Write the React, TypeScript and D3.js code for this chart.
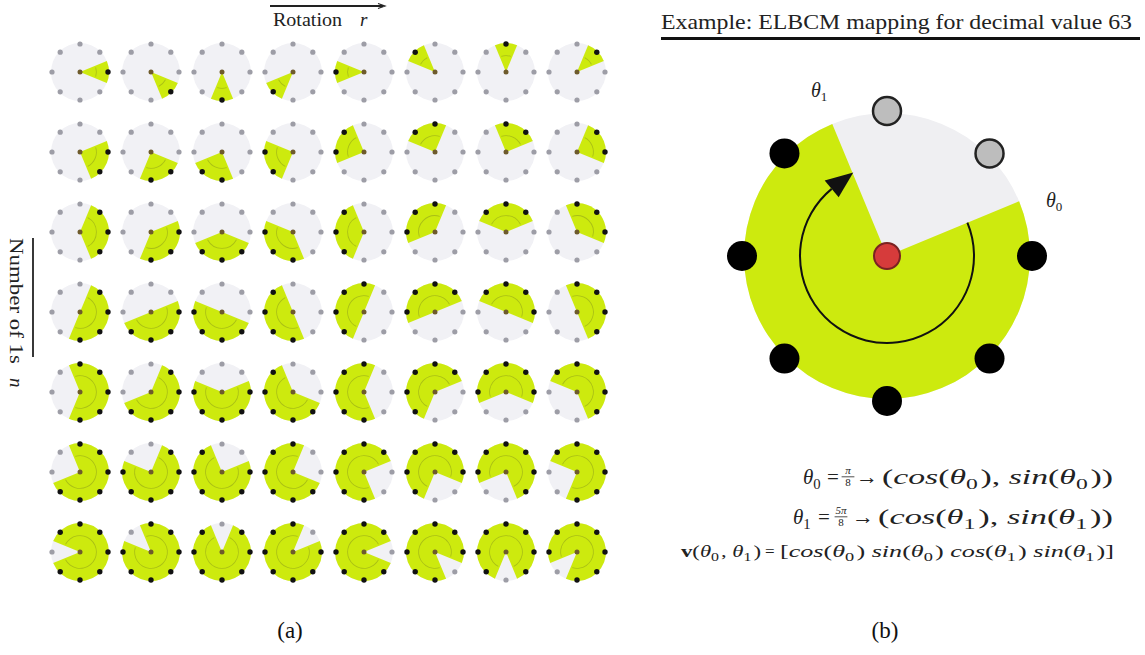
import React from 'react';
import * as d3 from 'd3';

// ---- data ----
const rotations = [0, 1, 2, 3, 4, 5, 6, 7];          // column: rotation r
const numberOfOnes = [1, 2, 3, 4, 5, 6, 7];         // row: number of 1s n
const dotAngles = [0, 45, 90, 135, 180, 225, 270, 315]; // math degrees of ring dots
const exampleValue = 63;
const exampleOnes = 6;
const exampleRotation = 2;
const titleText = `Example: ELBCM mapping for decimal value ${exampleValue}`;
const panelLabels = ['(a)', '(b)'];

const GREEN = '#cdea0e';
const RAD = Math.PI / 180;
const mod = (a: number, m: number) => ((a % m) + m) % m;

function cellGeometry(n: number, r: number) {
  const topDeg = -45 * r + 45 * Math.floor((n - 1) / 2);
  const active = new Set<number>();
  for (let j = 0; j < n; j++) active.add(mod(topDeg - 45 * j, 360));
  const start = (90 - (topDeg + 22.5)) * RAD; // d3 arc angle (clockwise from 12 o'clock)
  const end = start + n * 45 * RAD;
  return { active, start, end };
}

function Cell({ cx, cy, n, r }: { cx: number; cy: number; n: number; r: number }) {
  const R = 28;
  const g = cellGeometry(n, r);
  const wedge = d3.arc()({ innerRadius: 0, outerRadius: 29, startAngle: g.start, endAngle: g.end } as any) || '';
  const inner = d3.arc()({ innerRadius: 16, outerRadius: 16.8, startAngle: g.start + 0.1, endAngle: g.end - 0.1 } as any) || '';
  return (
    <g transform={`translate(${cx},${cy})`}>
      <circle r={29} fill="#f1f1f5" />
      <path d={wedge} fill={GREEN} />
      <path d={inner} fill="#7c8a1e" opacity={0.45} />
      {dotAngles.map((a) => (
        <circle
          key={a}
          cx={R * Math.cos(a * RAD)}
          cy={-R * Math.sin(a * RAD)}
          r={g.active.has(a) ? 2.7 : 2.6}
          fill={g.active.has(a) ? '#111' : '#9d9da6'}
        />
      ))}
      <circle r={2.5} fill="#6e5b2c" />
    </g>
  );
}

function Frac({ x, y, num, den, size }: { x: number; y: number; num: string; den: string; size: number }) {
  return (
    <g>
      <text x={x} y={y - size * 0.5} fontSize={size * 0.55} textAnchor="middle" fontStyle="italic">{num}</text>
      <line x1={x - size * 0.32} x2={x + size * 0.32} y1={y - size * 0.36} y2={y - size * 0.36} stroke="#222" strokeWidth={0.8} />
      <text x={x} y={y + size * 0.1} fontSize={size * 0.55} textAnchor="middle">{den}</text>
    </g>
  );
}

const Th = ({ i, s }: { i: string; s: number }) => (
  <>
    <tspan fontStyle="italic">θ</tspan>
    <tspan fontSize={s * 0.7} dy={s * 0.25}>{i}</tspan>
    <tspan dy={-s * 0.25}>{'\u200A'}</tspan>
  </>
);

export default function App() {
  const x = d3.scalePoint<number>().domain(rotations).range([80, 577]);
  const y = d3.scalePoint<number>().domain(numberOfOnes).range([72, 552]);

  // panel b
  const bx = 887, by = 256, bR = 145, wR = 143;
  const eg = cellGeometry(exampleOnes, exampleRotation);
  const greenB = d3.arc()({ innerRadius: 0, outerRadius: wR, startAngle: eg.start, endAngle: eg.end } as any) || '';
  const greyB = d3.arc()({ innerRadius: 0, outerRadius: wR, startAngle: 0, endAngle: 2 * Math.PI } as any) || '';
  const arcR = 87;
  const a0 = eg.start;               // theta0 (d3 angle)
  const aEnd = eg.end - 17 * RAD;    // arc stops before arrow base
  const arcLine = d3.arc()({ innerRadius: arcR - 1, outerRadius: arcR + 1, startAngle: a0, endAngle: aEnd } as any) || '';
  const tipA = eg.end + 0.5 * RAD;
  const tip = [bx + (arcR + 3) * Math.sin(tipA), by - (arcR + 3) * Math.cos(tipA)];
  const baseC = [bx + arcR * Math.sin(aEnd), by - arcR * Math.cos(aEnd)];
  const nrm = [Math.sin(aEnd), -Math.cos(aEnd)];
  const hw = 11;
  const arrow = `M${tip[0]},${tip[1]} L${baseC[0] + nrm[0] * hw},${baseC[1] + nrm[1] * hw} L${baseC[0] - nrm[0] * hw},${baseC[1] - nrm[1] * hw} Z`;

  const serif = "'Liberation Serif', 'DejaVu Serif', serif";
  const LA = 'spacingAndGlyphs';

  return (
    <svg width={1145} height={655} style={{ position: 'absolute', left: 0, top: 0, background: '#fff', fontFamily: serif }}>
      <rect width={1145} height={655} fill="#fff" />
      {/* panel a header */}
      <line x1={270} x2={383} y1={6} y2={6} stroke="#222" strokeWidth={2} />
      <path d="M378,3.5 L385,6 L378,8.5" fill="none" stroke="#222" strokeWidth={1.2} />
      <text x={273} y={26} fontSize={19} textLength={69} lengthAdjust={LA} fill="#222">Rotation</text>
      <text x={360} y={26} fontSize={19} fontStyle="italic" fill="#222">r</text>
      {/* vertical label */}
      <g transform="translate(10,238) rotate(90)">
        <text x={0} y={0} fontSize={19} textLength={126} lengthAdjust={LA} fill="#222">Number of 1s</text>
        <text x={140} y={0} fontSize={19} fontStyle="italic" fill="#222">n</text>
      </g>
      <line x1={33} x2={33} y1={238} y2={357} stroke="#222" strokeWidth={1.8} />

      {numberOfOnes.map((n) =>
        rotations.map((r) => <Cell key={`${n}-${r}`} cx={x(r)!} cy={y(n)!} n={n} r={r} />)
      )}

      {/* panel b */}
      <text x={661} y={29} fontSize={21} textLength={471} lengthAdjust={LA} fill="#222">{titleText}</text>
      <line x1={661} x2={1140} y1={38.5} y2={38.5} stroke="#111" strokeWidth={3} />

      <path d={greyB} transform={`translate(${bx},${by})`} fill="#efeff2" />
      <path d={greenB} transform={`translate(${bx},${by})`} fill={GREEN} />
      <path d={arcLine} transform={`translate(${bx},${by})`} fill="#111" />
      <path d={arrow} fill="#111" />
      {dotAngles.map((a) => (
        <circle
          key={a}
          cx={bx + bR * Math.cos(a * RAD)}
          cy={by - bR * Math.sin(a * RAD)}
          r={eg.active.has(a) ? 15 : 14}
          fill={eg.active.has(a) ? '#000' : '#bdbdbd'}
          stroke={eg.active.has(a) ? 'none' : '#222'}
          strokeWidth={2.5}
        />
      ))}
      <circle cx={bx} cy={by} r={13} fill="#d63b3b" stroke="#7a2222" strokeWidth={2} />
      <text x={811} y={97} fontSize={20} fontStyle="italic" fill="#222">θ<tspan fontSize={13} dy={4} fontStyle="normal">1</tspan></text>
      <text x={1046} y={207} fontSize={20} fontStyle="italic" fill="#222">θ<tspan fontSize={13} dy={4} fontStyle="normal">0</tspan></text>

      {/* equations */}
      <g fill="#222">
        <text x={803} y={484} fontSize={21}><Th i="0" s={21} /></text>
        <text x={827} y={484} fontSize={21}>=</text>
        <Frac x={848} y={484} num="π" den="8" size={20} />
        <text x={856} y={484} fontSize={21} textLength={22} lengthAdjust={LA}>→</text>
        <text x={882} y={484} fontSize={21} textLength={231} lengthAdjust={LA}>(<tspan fontStyle="italic">cos</tspan>(<Th i="0" s={21} />), <tspan fontStyle="italic">sin</tspan>(<Th i="0" s={21} />))</text>

        <text x={793} y={524} fontSize={21}><Th i="1" s={21} /></text>
        <text x={818} y={524} fontSize={21}>=</text>
        <Frac x={841} y={524} num="5π" den="8" size={20} />
        <text x={852} y={524} fontSize={21} textLength={22} lengthAdjust={LA}>→</text>
        <text x={878} y={524} fontSize={21} textLength={235} lengthAdjust={LA}>(<tspan fontStyle="italic">cos</tspan>(<Th i="1" s={21} />), <tspan fontStyle="italic">sin</tspan>(<Th i="1" s={21} />))</text>

        <text x={681} y={557} fontSize={17} textLength={80} lengthAdjust={LA}><tspan fontWeight="bold">v</tspan>(<Th i="0" s={17} />, <Th i="1" s={17} />)</text>
        <text x={765} y={557} fontSize={17}>=</text>
        <text x={780} y={557} fontSize={17} textLength={334} lengthAdjust={LA}>[<tspan fontStyle="italic">cos</tspan>(<Th i="0" s={17} />)  <tspan fontStyle="italic">sin</tspan>(<Th i="0" s={17} />)  <tspan fontStyle="italic">cos</tspan>(<Th i="1" s={17} />)  <tspan fontStyle="italic">sin</tspan>(<Th i="1" s={17} />)]</text>
      </g>

      <text x={290} y={638} fontSize={23} textAnchor="middle" fill="#111">{panelLabels[0]}</text>
      <text x={885} y={638} fontSize={23} textAnchor="middle" fill="#111">{panelLabels[1]}</text>
    </svg>
  );
}
